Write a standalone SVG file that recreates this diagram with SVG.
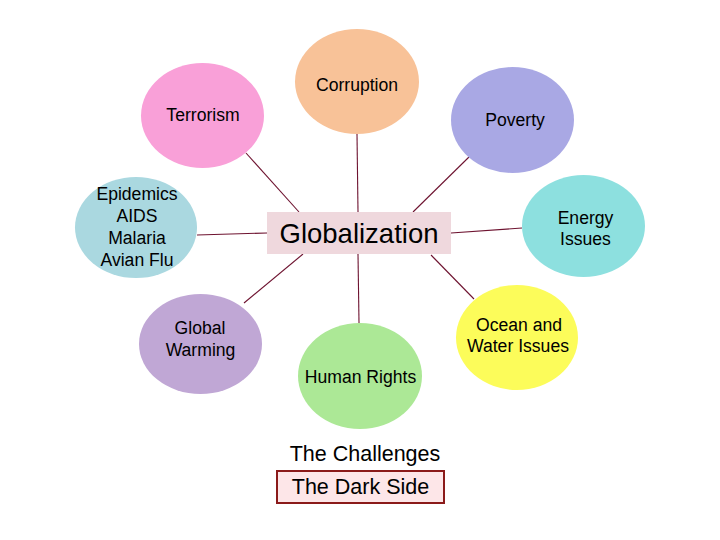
<svg xmlns="http://www.w3.org/2000/svg" width="720" height="540" viewBox="0 0 720 540">
<style>
text{font-family:"Liberation Sans",Arial,sans-serif;fill:#000;text-anchor:middle}
.n{font-size:17.6px}
.c line{stroke:#6e1330;stroke-width:1.1}
</style>
<rect width="720" height="540" fill="#fff"/>
<g id="connectors" class="c">
<line x1="357" y1="134" x2="358" y2="212"/>
<line x1="246" y1="153" x2="299" y2="212"/>
<line x1="469" y1="157" x2="413" y2="212"/>
<line x1="197" y1="235" x2="267" y2="233"/>
<line x1="451" y1="233" x2="522" y2="228"/>
<line x1="303" y1="254" x2="244" y2="303"/>
<line x1="358" y1="254" x2="359" y2="323"/>
<line x1="431" y1="255" x2="474" y2="299"/>
</g>
<g id="corruption"><ellipse cx="357" cy="81.5" rx="62" ry="52.5" fill="#f8c298"/><text class="n" x="357" y="91">Corruption</text></g>
<g id="terrorism"><ellipse cx="202.5" cy="115.5" rx="61.5" ry="52.5" fill="#f9a0d8"/><text class="n" x="203" y="121">Terrorism</text></g>
<g id="poverty"><ellipse cx="512.5" cy="120" rx="61.5" ry="53" fill="#a9a8e4"/><text class="n" x="515" y="126">Poverty</text></g>
<g id="epidemics"><ellipse cx="136" cy="227.5" rx="61" ry="50.5" fill="#aad8e0"/><text class="n" x="137" y="200">Epidemics</text><text class="n" x="137" y="222">AIDS</text><text class="n" x="137" y="244">Malaria</text><text class="n" x="137" y="266">Avian Flu</text></g>
<g id="energy"><ellipse cx="583.5" cy="226" rx="61.5" ry="51" fill="#8de0df"/><text class="n" x="585.5" y="224">Energy</text><text class="n" x="585.5" y="245">Issues</text></g>
<g id="globalization"><rect x="267" y="212" width="184" height="42" fill="#efd8dd"/><text x="359" y="243" font-size="27.5">Globalization</text></g>
<g id="global-warming"><ellipse cx="200.5" cy="344" rx="61.5" ry="50" fill="#c0a7d5"/><text class="n" x="200" y="334">Global</text><text class="n" x="200.5" y="356">Warming</text></g>
<g id="human-rights"><ellipse cx="360" cy="376" rx="62" ry="53" fill="#ace896"/><text class="n" x="360.5" y="383">Human Rights</text></g>
<g id="ocean"><ellipse cx="517" cy="337.5" rx="61" ry="52.5" fill="#fcfc5a"/><text class="n" x="519" y="331">Ocean and</text><text class="n" x="518" y="352">Water Issues</text></g>
<g id="challenges"><text x="365" y="461" font-size="21.5">The Challenges</text></g>
<g id="dark-side"><rect x="277" y="471" width="167" height="32" fill="#fde6e8" stroke="#8b1a1a" stroke-width="2"/><text x="360.5" y="494" font-size="21.5">The Dark Side</text></g>
</svg>
